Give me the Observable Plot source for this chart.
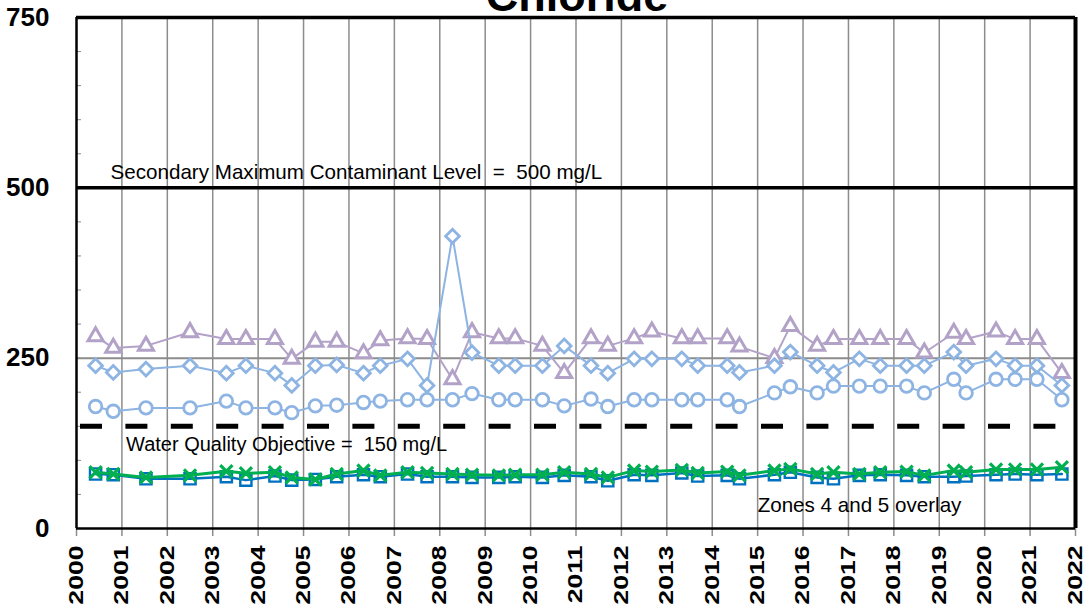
<!DOCTYPE html>
<html><head><meta charset="utf-8">
<script src="https://cdn.jsdelivr.net/npm/d3@7"></script>
<script src="https://cdn.jsdelivr.net/npm/@observablehq/plot@0.6"></script>
<style>
body{margin:0;background:#fff;}
#wrap{position:relative;width:1087px;height:614px;overflow:hidden;font-family:Arial,"Liberation Sans",sans-serif;}
#title{position:absolute;left:0;width:1154px;text-align:center;top:-30px;line-height:45px;font:bold 45px Arial,"Liberation Sans",sans-serif;color:#000;}
</style></head><body><div id="wrap"><div id="chart"></div><div id="title">Chloride</div></div>
<script>
const years = d3.range(2000, 2023);
const yLabels = [0, 250, 500, 750];
const dates = [2000.42, 2000.81, 2001.53, 2002.50, 2003.30, 2003.73, 2004.37, 2004.74, 2005.26, 2005.73,
  2006.32, 2006.69, 2007.29, 2007.72, 2008.28, 2008.71, 2009.30, 2009.66, 2010.26, 2010.74,
  2011.33, 2011.70, 2012.28, 2012.67, 2013.33, 2013.68, 2014.33, 2014.60, 2015.37, 2015.72,
  2016.31, 2016.67, 2017.24, 2017.70, 2018.28, 2018.67, 2019.32, 2019.59, 2020.25, 2020.67,
  2021.15, 2021.70];
const triangles = [282, 265, 268, 288, 278, 278, 278, 249, 274, 274, 257, 276, 279, 278, 219, 288, 279, 279, 268, 228,
  279, 268, 279, 289, 279, 279, 279, 267, 250, 297, 268, 278, 278, 278, 278, 258, 287, 278, 289, 278, 278, 228];
const diamonds = [239, 229, 234, 239, 228, 239, 228, 210, 239, 240, 228, 239, 249, 210, 429, 258, 239, 239, 239, 268,
  239, 228, 249, 249, 249, 239, 239, 229, 239, 259, 239, 229, 249, 239, 239, 239, 259, 239, 249, 239, 239, 210];
const circles = [179, 172, 177, 177, 187, 177, 177, 170, 180, 181, 185, 187, 189, 189, 189, 198, 189, 189, 189, 180,
  190, 179, 189, 189, 189, 189, 189, 179, 199, 208, 199, 209, 209, 209, 209, 199, 219, 199, 219, 219, 219, 189];
const squares = [80, 79, 73, 73, 76, 71, 77, 71, 72, 76, 79, 76, 80, 76, 76, 75, 75, 76, 75, 78,
  76, 70, 79, 78, 81.5, 77, 78, 73, 79, 82.5, 75, 73, 78, 79, 78, 76, 76, 77, 79, 80, 79, 80];
const crosses = [82.5, 80, 75, 78, 84, 81, 82.5, 75, 72, 80, 85, 78, 82.5, 81.5, 80, 79, 78, 79, 79, 82.5,
  80, 75, 85, 83.5, 86, 81.5, 83.5, 78, 85, 87.5, 80, 82.5, 80, 82.5, 83.5, 78, 85, 82.5, 86.5, 86.5, 86.5, 90];
const smcl = 500, wqo = 150;
const smclText = "Secondary Maximum Contaminant Level  =  500 mg/L";
const wqoText = "Water Quality Objective =  150 mg/L";
const overlayText = "Zones 4 and 5 overlay";

const purple = "#b3a2c7", lightBlue = "#8db4e2", blue = "#0070c0", green = "#00b050", grid = "#8c8c8c";

function series(y, color, symbol, r, lw, mw, fill) {
  return [
    Plot.line(dates, {x: dates, y, stroke: color, strokeWidth: lw}),
    Plot.dot(dates, {x: dates, y, stroke: color, symbol, r, strokeWidth: mw, fill})
  ];
}

const chart = Plot.plot({
  width: 1087, height: 614,
  marginLeft: 76, marginRight: 12, marginTop: 17, marginBottom: 86,
  style: {fontFamily: "Arial, 'Liberation Sans', sans-serif", background: "white", overflow: "visible"},
  x: {domain: [2000, 2022]},
  y: {domain: [0, 750]},
  marks: [
    Plot.ruleX(years.slice(1, -1), {stroke: grid, strokeWidth: 1.5}),
    Plot.axisX({ticks: years, tickSize: 8, tickFormat: () => "", stroke: grid, strokeWidth: 1.5}),
    Plot.axisY({ticks: d3.range(0, 751, 50), tickSize: -5, tickFormat: () => "", stroke: grid}),
    Plot.axisY({ticks: yLabels, tickSize: 0, tickPadding: 27, fontSize: 26, fontWeight: "bold", fill: "#000"}),
    Plot.ruleY([250], {stroke: grid, strokeWidth: 2}),
    Plot.ruleY([smcl], {stroke: "#000", strokeWidth: 3.5}),
    Plot.ruleY([750], {stroke: "#000", strokeWidth: 3.5}),
    Plot.ruleY([0], {stroke: "#000", strokeWidth: 2.5}),
    Plot.ruleX([2000], {stroke: "#000", strokeWidth: 2.5}),
    Plot.ruleX([2022], {stroke: "#000", strokeWidth: 4}),
    Plot.ruleY([wqo], {x1: 2000, x2: 2022, stroke: "#000", strokeWidth: 5, strokeDasharray: "22,23.4", strokeDashoffset: -4}),
    Plot.text([smclText], {x: 2000.75, y: smcl, text: d => d, textAnchor: "start", dy: -15, fontSize: 20.6, fill: "#000"}),
    Plot.text([wqoText], {x: 2001.09, y: wqo, text: d => d, textAnchor: "start", dy: 18, fontSize: 20, fill: "#000"}),
    Plot.text([overlayText], {x: 2015.0, y: 0, text: d => d, textAnchor: "start", dy: -23, fontSize: 20.6, fill: "#000"}),
    ...series(triangles, purple, "triangle", 5.6, 2, 3, "white"),
    ...series(diamonds, lightBlue, "diamond2", 6.2, 2, 2.8, "white"),
    ...series(circles, lightBlue, "circle", 6.3, 2, 2.8, "white"),
    ...series(squares, blue, "square", 6.3, 2.5, 2.4, "none"),
    ...series(crosses, green, "times", 5.6, 3, 3.2, "none"),
    Plot.text(years, {x: d => d, y: 0, text: d => String(d), rotate: -90, textAnchor: "end", lineAnchor: "middle",
      dy: 17, fontSize: 20, fontWeight: "bold", fill: "#000"})
  ]
});
document.getElementById("chart").appendChild(chart);
d3.select(chart).selectAll("text").each(function() {
  const t = this.getAttribute("transform") || "";
  if (t.includes("rotate(-90)")) this.setAttribute("transform", t + " scale(1.33,1)");
});
</script>
</body></html>
